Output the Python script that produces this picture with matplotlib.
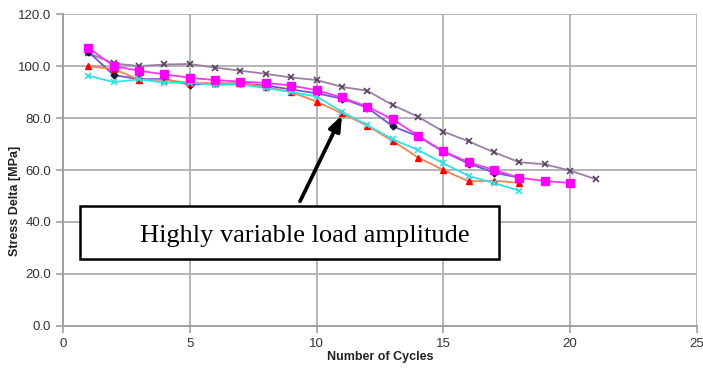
import matplotlib
matplotlib.use("Agg")
import matplotlib.pyplot as plt
from matplotlib.patches import Rectangle

# cycles and stress delta [MPa] per test
cyc_a = list(range(1, 22))
stress_a = [105.0, 101.0, 100.0, 100.6, 100.8, 99.4, 98.2, 97.0, 95.6, 94.6, 92.0, 90.5,
            85.0, 80.5, 74.8, 71.0, 66.8, 63.0, 62.2, 59.8, 56.5]

cyc_b = list(range(1, 21))
stress_b = [107.0, 100.0, 98.2, 96.8, 95.5, 94.6, 94.0, 93.5, 92.5, 90.7, 87.9, 84.4,
            79.5, 73.2, 67.2, 63.0, 60.0, 57.0, 55.8, 55.0]

cyc_c = list(range(1, 19))
stress_c = [105.5, 96.5, 95.0, 95.0, 92.8, 93.3, 93.3, 92.5, 91.0, 89.5, 87.5, 84.0,
            76.8, 73.0, 67.0, 62.5, 59.0, 57.0]

cyc_d = list(range(1, 19))
stress_d = [100.0, 98.8, 94.8, 94.6, 93.6, 93.3, 93.3, 92.0, 90.0, 86.3, 81.8, 77.0,
            71.2, 64.8, 60.0, 55.6, 55.9, 55.0]

cyc_e = list(range(1, 19))
stress_e = [96.3, 93.8, 94.9, 93.6, 93.6, 92.7, 92.9, 91.5, 90.0, 88.3, 82.4, 77.3,
            71.8, 67.7, 62.6, 57.7, 55.0, 52.0]

note = "Highly variable load amplitude"

fig = plt.figure(figsize=(7.03, 3.70), dpi=100)
ax = fig.add_axes([0.0896, 0.119, 0.9018, 0.843])

ax.plot(cyc_a, stress_a, color="#9a7fa6", lw=1.3, marker="x", ms=4,
        mec="#5a4060", mew=1.2, zorder=3)
ax.plot(cyc_c, stress_c, color="#6a5acd", lw=1.3, marker="D", ms=3.5,
        mfc="#1a1a3a", mec="#1a1a3a", zorder=3)
ax.plot(cyc_d, stress_d, color="#ff7f50", lw=1.3, marker="^", ms=5,
        mfc="red", mec="red", zorder=3)
ax.plot(cyc_e, stress_e, color="#33e0e6", lw=1.3, marker="x", ms=4,
        mec="#33e0e6", mew=1.2, zorder=3)
ax.plot(cyc_b, stress_b, color="#ff33ff", lw=1.3, marker="s", ms=5.5,
        mfc="#ff00ff", mec="#ff00ff", zorder=4)

ax.set_xlim(0, 25)
ax.set_ylim(0, 120)
ax.set_xticks(range(0, 26, 5))
ax.set_yticks(range(0, 121, 20))
ax.set_yticklabels([f"{v:.1f}" for v in range(0, 121, 20)])
ax.grid(True, color="#b4b4b4", lw=1.4)
ax.set_axisbelow(True)
for s in ["top", "right"]:
    ax.spines[s].set_visible(False)
for s in ["left", "bottom"]:
    ax.spines[s].set_color("#a0a0a0")
    ax.spines[s].set_linewidth(1.4)
ax.tick_params(colors="#a0a0a0", labelcolor="#333333", labelsize=9.5, length=5, width=1.2)
for t in ax.get_xticklabels() + ax.get_yticklabels():
    t.set_family("Liberation Sans")

ax.set_xlabel("Number of Cycles", fontsize=9, fontweight="bold",
              family="Liberation Sans", labelpad=1, color="#222222")
ax.set_ylabel("Stress Delta [MPa]", fontsize=9, fontweight="bold",
              family="Liberation Sans", color="#222222")
ax.yaxis.set_label_coords(-0.067, 0.4)

# annotation box and arrow
ax.annotate("", xy=(11.05, 82.0), xytext=(9.3, 47.0),
            arrowprops=dict(arrowstyle="-|>,head_length=0.9,head_width=0.35",
                            color="black", lw=2.7), zorder=5)
ax.add_patch(Rectangle((0.67, 25.8), 16.51, 20.4, fc="white", ec="black",
                       lw=1.8, zorder=6))
ax.text(9.52, 32.4, note, ha="center", va="baseline",
        fontsize=19, family="Liberation Serif", zorder=7)

fig.savefig("out.png", dpi=100)
